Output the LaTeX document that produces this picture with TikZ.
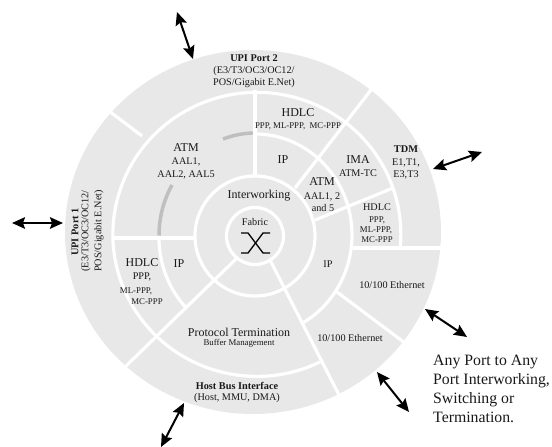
\documentclass[tikz,border=0pt]{standalone}
\usepackage{fontspec}
\setmainfont{Liberation Serif}
\usetikzlibrary{arrows.meta}
\tikzset{
  wl/.style={draw=white,line width=3.2pt},
  ga/.style={draw=black!25,line width=3.5pt},
  port/.style={draw=black,line width=2pt,{Stealth[length=13pt,width=11.5pt,inset=2pt]}-{Stealth[length=13pt,width=11.5pt,inset=2pt]}},
  txt/.style={inner sep=0pt,align=center,text=black!90},
  big/.style={txt,font=\fontsize{12}{14}\selectfont},
  mid/.style={txt,font=\fontsize{10.2}{12}\selectfont},
  sm/.style={txt,font=\fontsize{8.8}{10}\selectfont},
  bmid/.style={txt,font=\fontsize{10.3}{12}\selectfont\bfseries}
}
\begin{document}
\begin{tikzpicture}[x=1pt,y=1pt]
\useasboundingbox (0,-447) rectangle (552,0);
\fill[black!9] (253,-232) ellipse [x radius=188pt,y radius=182pt];
% rings
\draw[wl] (320,-362) arc [start angle=-64,end angle=-366,x radius=144pt,y radius=142pt];
\draw[wl] (255,-134) arc [start angle=90,end angle=-60,x radius=97pt,y radius=101pt];
\draw[wl] (159,-236) arc [start angle=-181,end angle=-136,x radius=97pt,y radius=101pt];
\draw[wl] (255,-236) circle [radius=60pt];
\draw[wl] (255,-236) circle [radius=28.5pt];
\draw[ga] (223,-139) arc [start angle=110,end angle=92,x radius=97pt,y radius=101pt];
\draw[ga] (172,-185) arc [start angle=150,end angle=180,x radius=97pt,y radius=101pt];
% dividers
\coordinate (v1) at (255,-90);   \coordinate (v2) at (255,-176);
\coordinate (h1) at (112,-238);  \coordinate (h2) at (195,-238);
\coordinate (d1) at (237,-258);  \coordinate (d2) at (125,-367);
\coordinate (e1) at (270,-260);  \coordinate (e2) at (339,-395);
\coordinate (f1) at (337,-292);  \coordinate (f2) at (405,-343);
\coordinate (g1) at (295,-188);  \coordinate (g2) at (374,-86);
\coordinate (i1) at (315,-220);  \coordinate (i2) at (393,-188);
\coordinate (j1) at (109,-111);  \coordinate (j2) at (142,-136);
\coordinate (k1) at (353,-248);  \coordinate (k2) at (442,-248);
\foreach \a/\b in {v1/v2,h1/h2,d1/d2,e1/e2,f1/f2,g1/g2,i1/i2,j1/j2,k1/k2}
  \draw[wl] (\a) -- (\b);
% fabric symbol
\coordinate (xa) at (241,-233); \coordinate (xb) at (248,-233);
\coordinate (xc) at (263,-253); \coordinate (xd) at (270,-253);
\coordinate (xe) at (270,-233); \coordinate (xf) at (263,-233);
\coordinate (xg) at (248,-253); \coordinate (xh) at (241,-253);
\draw[line width=1.3pt] (xa) -- (xb) -- (xc) -- (xd);
\draw[line width=1.3pt] (xe) -- (xf) -- (xg) -- (xh);
% arrows
\coordinate (a1a) at (177,-12);  \coordinate (a1b) at (193,-59);
\coordinate (a2a) at (433,-169); \coordinate (a2b) at (482,-152);
\coordinate (a3a) at (425,-309); \coordinate (a3b) at (467,-337);
\coordinate (a4a) at (377,-372); \coordinate (a4b) at (409,-412);
\coordinate (a5a) at (184,-403); \coordinate (a5b) at (161,-447);
\coordinate (a6a) at (12,-223);  \coordinate (a6b) at (63,-223);
\foreach \a/\b in {a1a/a1b,a2a/a2b,a3a/a3b,a4a/a4b,a5a/a5b,a6a/a6b}
  \draw[port] (\a) -- (\b);
% text
\node[bmid] (t1) at (254,-58) {UPI Port 2};
\node[mid] (t2) at (254,-71) {(E3/T3/OC3/OC12/};
\node[mid] (t3) at (254,-83) {POS/Gigabit E.Net)};
\node[big] (t4) at (298,-113) {HDLC};
\node[sm] (t5) at (298,-126) {PPP, ML-PPP,\ \ MC-PPP};
\node[big] (t6) at (283,-160) {IP};
\node[big] (t7) at (186,-148) {ATM};
\node[mid] (t8) at (186,-162) {AAL1,};
\node[mid] (t9) at (186,-175) {AAL2, AAL5};
\node[big] (t10) at (259,-196) {Interworking};
\node[mid] (t11) at (255,-222) {Fabric};
\node[big] (t12) at (358,-160) {IMA};
\node[mid] (t13) at (358,-173) {ATM-TC};
\node[big] (t14) at (322,-182) {ATM};
\node[mid] (t15) at (322,-197) {AAL1, 2};
\node[mid] (t16) at (323,-208) {and 5};
\node[bmid] (t17) at (406,-149) {TDM};
\node[mid] (t18) at (406,-163) {E1,T1,};
\node[mid] (t19) at (406,-175) {E3,T3};
\node[mid] (t20) at (377,-207) {HDLC};
\node[sm] (t21) at (377,-220) {PPP,};
\node[sm] (t22) at (376,-230) {ML-PPP,};
\node[sm] (t23) at (377,-240) {MC-PPP};
\node[mid] (t24) at (328,-264) {IP};
\node[mid] (t25) at (392,-285) {10/100 Ethernet};
\node[mid] (t26) at (350,-338) {10/100 Ethernet};
\node[big] (t27) at (239,-332) {Protocol Termination};
\node[sm] (t28) at (239,-343) {Buffer Management};
\node[bmid] (t29) at (237,-386) {Host Bus Interface};
\node[mid] (t30) at (237,-398) {(Host, MMU, DMA)};
\node[bmid,rotate=90] (t31) at (75,-232) {UPI Port 1};
\node[mid,rotate=90] (t32) at (86,-231) {(E3/T3/OC3/OC12/};
\node[mid,rotate=90] (t33) at (99,-231) {POS/Gigabit E.Net)};
\node[big] (t34) at (179,-264) {IP};
\node[big] (t35) at (142,-263) {HDLC};
\node[mid] (t36) at (142,-277) {PPP,};
\node[sm] (t37) at (136,-291) {ML-PPP,};
\node[sm] (t38) at (147,-302) {MC-PPP};
\node[txt,anchor=north west,align=left,font=\fontsize{15.8}{19}\selectfont] (t39) at (433,-355)
  {Any Port to Any\\Port Interworking,\\Switching or\\Termination.};
\end{tikzpicture}
\end{document}
